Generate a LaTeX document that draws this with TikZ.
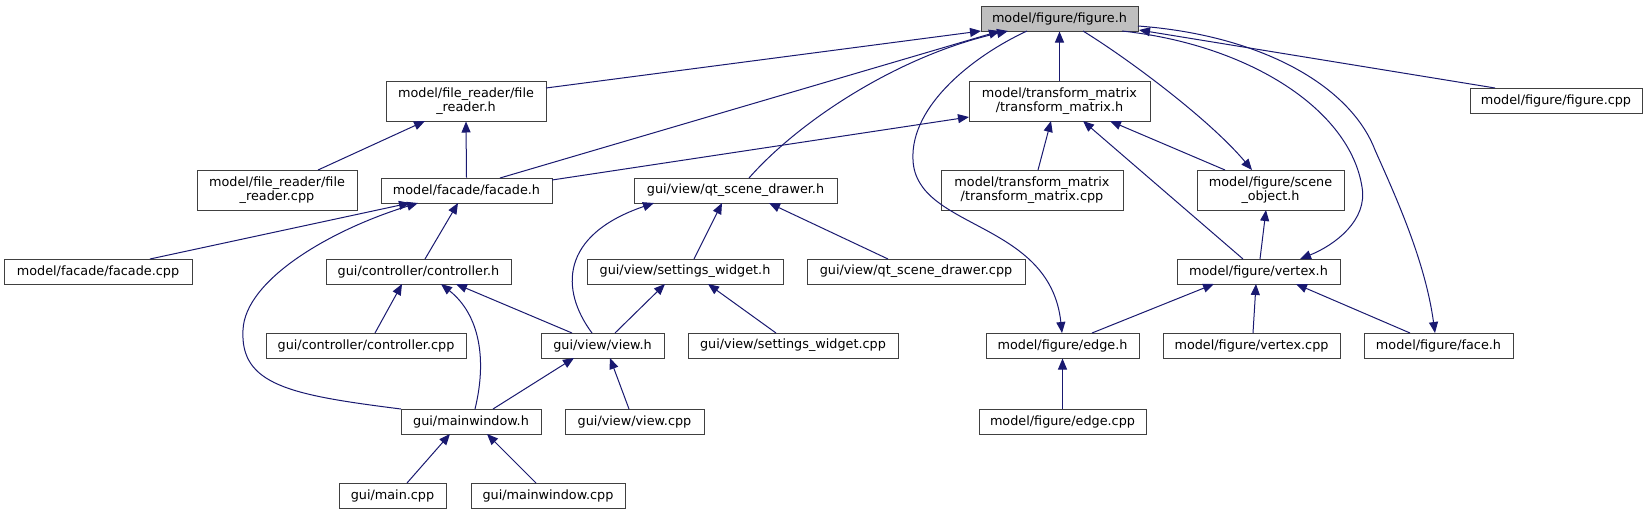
\documentclass[tikz,border=0pt]{standalone}
\usepackage{fontspec}
\setmainfont{DejaVu Sans}
\usetikzlibrary{arrows.meta,calc}
\definecolor{edgeblue}{HTML}{191970}
\definecolor{boxborder}{HTML}{404040}
\definecolor{rootfill}{HTML}{BFBFBF}
\begin{document}
\begin{tikzpicture}[x=1pt,y=-1pt,
  box/.style={draw=boxborder, line width=1pt, fill=white, inner sep=0pt, align=center,
    minimum height=25pt, font=\fontsize{12.8}{14.5}\selectfont},
  box2/.style={box, minimum height=40pt},
  arr/.style={draw=edgeblue, line width=1pt, -{Triangle[length=11pt,width=9pt]}}]
\useasboundingbox (0,0) rectangle (1647,515);
\fill[white] (0,0) rectangle (1647,515);

% nodes
\node[box, fill=rootfill, minimum width=157pt] (figureh) at (1059.5,18.5) {model/figure/figure.h};
\node[box2, minimum width=160pt] (filereaderh) at (466,101) {model/file\_reader/file\\\_reader.h};
\node[box2, minimum width=181pt] (tmh) at (1059.5,101) {model/transform\_matrix\\/transform\_matrix.h};
\node[box, minimum width=172pt] (figurecpp) at (1556,100.5) {model/figure/figure.cpp};
\node[box2, minimum width=160pt] (filereadercpp) at (277,190) {model/file\_reader/file\\\_reader.cpp};
\node[box, minimum width=171pt] (facadeh) at (466.5,190.5) {model/facade/facade.h};
\node[box, minimum width=203pt] (qth) at (735.5,190.5) {gui/view/qt\_scene\_drawer.h};
\node[box2, minimum width=182pt] (tmcpp) at (1032,190) {model/transform\_matrix\\/transform\_matrix.cpp};
\node[box2, minimum width=147pt] (sceneh) at (1270.5,190) {model/figure/scene\\\_object.h};
\node[box, minimum width=188pt] (facadecpp) at (98,271.5) {model/facade/facade.cpp};
\node[box, minimum width=185pt] (controllerh) at (418.5,271.5) {gui/controller/controller.h};
\node[box, minimum width=196pt] (settingsh) at (685,271.5) {gui/view/settings\_widget.h};
\node[box, minimum width=218pt] (qtcpp) at (916,271.5) {gui/view/qt\_scene\_drawer.cpp};
\node[box, minimum width=163pt] (vertexh) at (1258.5,271.5) {model/figure/vertex.h};
\node[box, minimum width=200pt] (controllercpp) at (366,345.5) {gui/controller/controller.cpp};
\node[box, minimum width=123pt] (viewh) at (602.5,345.5) {gui/view/view.h};
\node[box, minimum width=210pt] (settingscpp) at (793,345.5) {gui/view/settings\_widget.cpp};
\node[box, minimum width=153pt] (edgeh) at (1062.5,345.5) {model/figure/edge.h};
\node[box, minimum width=177pt] (vertexcpp) at (1251.5,345.5) {model/figure/vertex.cpp};
\node[box, minimum width=149pt] (faceh) at (1438.5,345.5) {model/figure/face.h};
\node[box, minimum width=140pt] (mainwindowh) at (471,421.5) {gui/mainwindow.h};
\node[box, minimum width=139pt] (viewcpp) at (634.5,421.5) {gui/view/view.cpp};
\node[box, minimum width=167pt] (edgecpp) at (1062.5,421.5) {model/figure/edge.cpp};
\node[box, minimum width=107pt] (maincpp) at (392.5,495.5) {gui/main.cpp};
\node[box, minimum width=154pt] (mainwindowcpp) at (548,495.5) {gui/mainwindow.cpp};

% edges into / out of figure.h
\draw[arr] ($(filereaderh)+(80,-13)$) -- ($(figureh)+(-78.5,12.5)$);
\draw[arr] ($(facadeh)+(33.5,-12.5)$) -- ($(figureh)+(-59.5,12.5)$);
\draw[arr] ($(qth)+(13.5,-12.5)$) .. controls +(51,-58) and +(-108,24) .. ($(figureh)+(-51.5,12.5)$);
\draw[arr] (tmh.north) -- (figureh.south);
\draw[arr] ($(figureh)+(-32.5,12.5)$) .. controls (975,55) and (910,105) .. (913,160)
  .. controls (916,230) and (1050,220) .. ($(edgeh)+(-0.5,-12.5)$);
\draw[arr] ($(figureh)+(23.5,12.5)$) .. controls (1130,60) and (1210,120) .. ($(sceneh)+(-18.5,-20)$);
\draw[arr] ($(figureh)+(62.5,12.5)$) .. controls (1250,45) and (1350,110) .. (1362,187)
  .. controls (1368,220) and (1335,245) .. ($(vertexh)+(41.5,-12.5)$);
\draw[arr] ($(figureh)+(78.5,7.5)$) .. controls (1260,35) and (1350,85) .. (1375,150)
  .. controls (1395,195) and (1425,260) .. ($(faceh)+(-3.5,-12.5)$);
\draw[arr] ($(figurecpp)+(-61,-12.5)$) -- ($(figureh)+(79.5,11.5)$);

% left part
\draw[arr] ($(facadeh)+(85.5,-10.5)$) -- ($(tmh)+(-90.5,16)$);
\draw[arr] ($(filereadercpp)+(41,-20)$) -- ($(filereaderh)+(-41,20)$);
\draw[arr] (facadeh.north) -- (filereaderh.south);
\draw[arr] ($(facadecpp)+(52,-12.5)$) -- ($(facadeh)+(-56.5,12.5)$);
\draw[arr] ($(mainwindowh)+(-70,-12.5)$) .. controls (290,395) and (240,385) .. (243,330)
  .. controls (245,280) and (330,230) .. ($(facadeh)+(-48.5,12.5)$);
\draw[arr] ($(controllerh)+(6.5,-12.5)$) -- ($(facadeh)+(-8.5,12.5)$);
\draw[arr] ($(controllercpp)+(9,-12.5)$) -- ($(controllerh)+(-16.5,12.5)$);
\draw[arr] ($(mainwindowh)+(4,-12.5)$) .. controls (487,360) and (480,315) .. ($(controllerh)+(22.5,12.5)$);
\draw[arr] ($(viewh)+(-30.5,-12.5)$) -- ($(controllerh)+(37.5,12.5)$);
\draw[arr] ($(viewh)+(-10.5,-12.5)$) .. controls (560,290) and (560,235) .. ($(qth)+(-81.5,12.5)$);
\draw[arr] ($(settingsh)+(9,-12.5)$) -- ($(qth)+(-13.5,12.5)$);
\draw[arr] ($(qtcpp)+(-28,-12.5)$) -- ($(qth)+(33.5,12.5)$);
\draw[arr] ($(viewh)+(12.5,-12.5)$) -- ($(settingsh)+(-20,12.5)$);
\draw[arr] ($(settingscpp)+(-17,-12.5)$) -- ($(settingsh)+(23,12.5)$);
\draw[arr] ($(mainwindowh)+(22,-12.5)$) -- ($(viewh)+(-28.5,12.5)$);
\draw[arr] ($(viewcpp)+(-5.5,-12.5)$) -- ($(viewh)+(7.5,12.5)$);
\draw[arr] ($(maincpp)+(14.5,-12.5)$) -- ($(mainwindowh)+(-21,12.5)$);
\draw[arr] ($(mainwindowcpp)+(-12,-12.5)$) -- ($(mainwindowh)+(16,12.5)$);

% right part
\draw[arr] ($(tmcpp)+(6,-20)$) -- ($(tmh)+(-8.5,20)$);
\draw[arr] ($(sceneh)+(-45.5,-20)$) -- ($(tmh)+(50.5,20)$);
\draw[arr] ($(vertexh)+(-15.5,-12.5)$) -- ($(tmh)+(23.5,20)$);
\draw[arr] ($(vertexh)+(1.5,-12.5)$) -- ($(sceneh)+(-4.5,20)$);
\draw[arr] ($(edgeh)+(29.5,-12.5)$) -- ($(vertexh)+(-44.5,12.5)$);
\draw[arr] ($(vertexcpp)+(1.5,-12.5)$) -- ($(vertexh)+(-2.5,12.5)$);
\draw[arr] ($(faceh)+(-28.5,-12.5)$) -- ($(vertexh)+(37.5,12.5)$);
\draw[arr] (edgecpp.north) -- (edgeh.south);
\end{tikzpicture}
\end{document}
